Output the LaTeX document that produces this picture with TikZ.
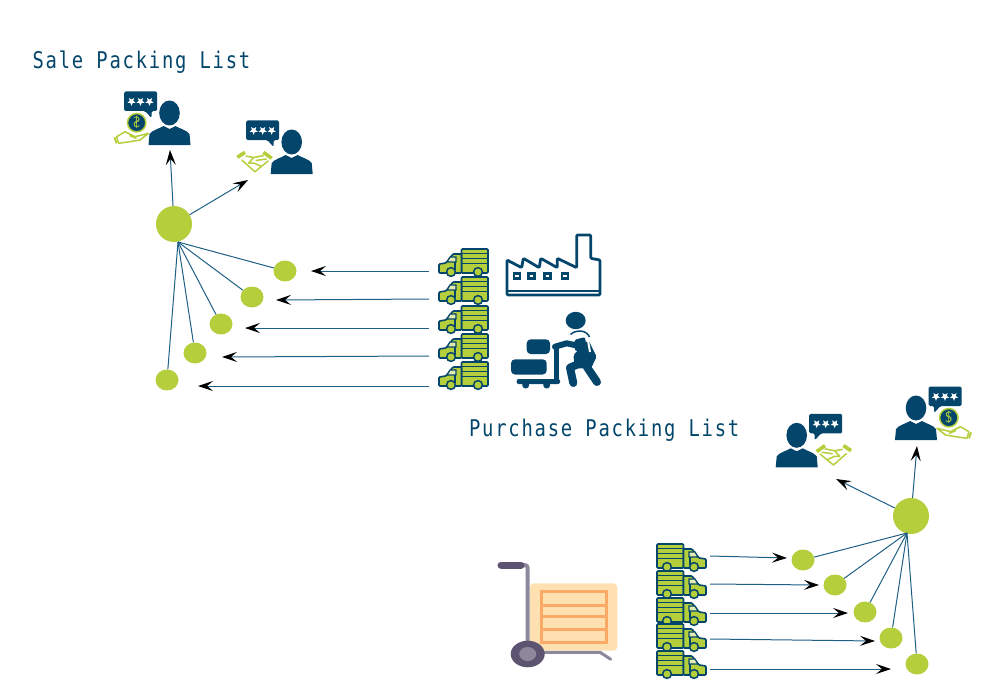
\documentclass[tikz,border=0pt]{standalone}
\usepackage{fontspec}
\usetikzlibrary{arrows.meta,shapes.geometric}
\newfontfamily\titlefont[FakeStretch=0.82,LetterSpace=7.7]{DejaVu Sans Mono}
\definecolor{navy}{HTML}{04466B}
\definecolor{lime}{HTML}{B5CE3B}
\definecolor{wire}{HTML}{1F5F85}
\definecolor{crate}{HTML}{FFE0B0}
\definecolor{slat}{HTML}{FBAA66}
\definecolor{frame}{HTML}{8D889C}
\definecolor{grip}{HTML}{5C5470}
\tikzset{
	hub/.style={circle,fill=lime,minimum size=36pt,inner sep=0pt},
	lot/.style={ellipse,fill=lime,minimum width=23pt,minimum height=21pt,inner sep=0pt},
	spoke/.style={wire,line width=1pt},
	flow/.style={wire,line width=1pt,-{Stealth[black,length=15pt,width=10pt,inset=6pt]}},
	heading/.style={anchor=base west,text=navy,font=\titlefont\fontsize{23}{26}\selectfont},
	truck/.pic={
		\draw[navy,fill=lime,line width=1.6pt,rounded corners=1pt] (-2.5,-13) rectangle (24,11);
		\draw[navy,line width=1pt] (-2.5,-8.5) -- (24,-8.5) (-2.5,-4) -- (24,-4) (-2.5,1) -- (24,1);
		\draw[navy,fill=lime,line width=1.6pt,rounded corners=1pt] (-25,11) -- (-25,2) -- (-18,1) -- (-11,-8) -- (-2.5,-8) -- (-2.5,11) -- cycle;
		\draw[navy,fill=lime!40,line width=1.2pt] (-14,-5) -- (-8,-5) -- (-8,0) -- (-17,0) -- cycle;
		\draw[navy,line width=1.2pt] (-9,0) -- (-9,8);
		\draw[navy,fill=lime,line width=1.5pt] (-13,10) circle (4.4) (14,10) circle (4.4);
	},
	bust/.pic={
		\fill[navy] (0,-32) ellipse (10.3 and 12.5);
		\fill[navy] (-21,0) -- (-20,-11) .. controls (-17,-15) and (-11,-16) .. (-6,-19) -- (0,-16) -- (6,-19) .. controls (11,-16) and (17,-15) .. (20,-11) -- (21,0) -- cycle;
		\fill[navy,rounded corners=1.5pt] (-45.5,-53.5) -- (-12.5,-53.5) -- (-12.5,-34) -- (-18,-34) -- (-18,-27) -- (-24.5,-34) -- (-45.5,-34) -- cycle;
		\foreach \sx in {-38,-29,-20}
			\fill[white,shift={(\sx,-43.5)}] (90:4.3) -- (126:1.9) -- (162:4.3) -- (198:1.9) -- (234:4.3) -- (270:1.9) -- (306:4.3) -- (342:1.9) -- (18:4.3) -- (54:1.9) -- cycle;
	},
	paying/.pic={
		\pic[transform shape] {bust};
		\draw[lime,fill=navy,line width=1.5pt] (-32.8,-22.3) circle (9.2);
		\node (-coin) at (-32.8,-22.3) [text=lime,font=\sffamily\fontsize{15}{15}\selectfont,transform shape,xscale=-1,inner sep=0pt] {\$};
		\draw[lime,line width=1.5pt,line join=round] (-52.8,-8.3) -- (-44.5,-13.3) -- (-34.5,-8.3) -- (-21,-11.7) -- (-29.5,-5) -- (-39.5,-3.3) -- (-51,-1.7) -- cycle;
		\draw[lime,line width=1.5pt,line join=round] (-40,-9.5) -- (-33,-6.5);
		\draw[lime,line width=2pt] (-55,-7.7) -- (-53,-1.7);
	},
	dealing/.pic={
		\pic[transform shape] {bust};
		\draw[lime,line width=1.5pt,line join=round] (-50,-14) -- (-36.7,-2.3) -- (-23.3,-13.3) (-46,-18) -- (-38,-16.5) -- (-28,-18.5) (-38,-16.5) -- (-43,-11) -- (-38,-11) -- (-30,-7.5) (-36,-13.5) -- (-25,-15);
		\draw[lime,line width=3.6pt] (-54.3,-16.7) -- (-46.7,-21.7) (-28.3,-21.7) -- (-20,-15.7);
	}
}
\begin{document}
\begin{tikzpicture}[x=1pt,y=-1pt]
	\useasboundingbox (0,0) rectangle (987,698);
	\node (salelist) at (29,69) [heading] {Sale Packing List};
	\node (purchaselist) at (465.5,436) [heading] {Purchase Packing List};
	%
	\pic (saleclient) at (169.5,145) {paying};
	\pic (salepartner) at (291.7,174) {dealing};
	\pic (buyclient) at (916,440) [xscale=-1] {paying};
	\pic (buypartner) at (796.7,467.3) [xscale=-1] {dealing};
	%
	\node (salehub) at (174,224) [hub] {};
	\node (sale1) at (285,271) [lot] {};
	\node (sale2) at (252,297) [lot] {};
	\node (sale3) at (221,324) [lot] {};
	\node (sale4) at (195,353) [lot] {};
	\node (sale5) at (167,380) [lot] {};
	%
	\node (buyhub) at (911,516) [hub] {};
	\node (buy1) at (803,560) [lot] {};
	\node (buy2) at (835,585) [lot] {};
	\node (buy3) at (865,612) [lot] {};
	\node (buy4) at (891,638) [lot] {};
	\node (buy5) at (917,664) [lot] {};
	%
	\coordinate (saleup) at (170,150);
	\coordinate (saleside) at (248,180);
	\coordinate (buyup) at (917,446);
	\coordinate (buyside) at (836,479);
	\coordinate (salefoot) at (178,242);
	\coordinate (buyfoot) at (907,533);
	%
	\draw[spoke] (salefoot) -- (sale1);
	\draw[spoke] (salefoot) -- (sale2);
	\draw[spoke] (salefoot) -- (sale3);
	\draw[spoke] (salefoot) -- (sale4);
	\draw[spoke] (salefoot) -- (sale5);
	\draw[spoke] (buyfoot) -- (buy1);
	\draw[spoke] (buyfoot) -- (buy2);
	\draw[spoke] (buyfoot) -- (buy3);
	\draw[spoke] (buyfoot) -- (buy4);
	\draw[spoke] (buyfoot) -- (buy5);
	%
	\draw[flow] (salehub) -- (saleup);
	\draw[flow] (salehub) -- (saleside);
	\draw[flow] (buyhub) -- (buyup);
	\draw[flow] (buyhub) -- (buyside);
	%
	\pic (saletruck1) at (464,262) {truck};
	\pic (saletruck2) at (464,290) {truck};
	\pic (saletruck3) at (464,319) {truck};
	\pic (saletruck4) at (464,347) {truck};
	\pic (saletruck5) at (464,375) {truck};
	\pic (buytruck1) at (681,557) [xscale=-1] {truck};
	\pic (buytruck2) at (681,584) [xscale=-1] {truck};
	\pic (buytruck3) at (681,611) [xscale=-1] {truck};
	\pic (buytruck4) at (681,637) [xscale=-1] {truck};
	\pic (buytruck5) at (681,664) [xscale=-1] {truck};
	%
	\coordinate (salefrom1) at (429,271);
	\coordinate (salefrom2) at (429,299);
	\coordinate (salefrom3) at (429,328);
	\coordinate (salefrom4) at (429,356);
	\coordinate (salefrom5) at (429,386);
	\coordinate (saleto1) at (311,271);
	\coordinate (saleto2) at (276,300);
	\coordinate (saleto3) at (245,328);
	\coordinate (saleto4) at (222,357);
	\coordinate (saleto5) at (198,386);
	\draw[flow] (salefrom1) -- (saleto1);
	\draw[flow] (salefrom2) -- (saleto2);
	\draw[flow] (salefrom3) -- (saleto3);
	\draw[flow] (salefrom4) -- (saleto4);
	\draw[flow] (salefrom5) -- (saleto5);
	%
	\coordinate (buyfrom1) at (710,556);
	\coordinate (buyfrom2) at (710,584);
	\coordinate (buyfrom3) at (710,613);
	\coordinate (buyfrom4) at (710,639);
	\coordinate (buyfrom5) at (710,669);
	\coordinate (buyto1) at (787,558);
	\coordinate (buyto2) at (819,585);
	\coordinate (buyto3) at (848,613);
	\coordinate (buyto4) at (875,641);
	\coordinate (buyto5) at (891,669);
	\draw[flow] (buyfrom1) -- (buyto1);
	\draw[flow] (buyfrom2) -- (buyto2);
	\draw[flow] (buyfrom3) -- (buyto3);
	\draw[flow] (buyfrom4) -- (buyto4);
	\draw[flow] (buyfrom5) -- (buyto5);
	%
	% factory
	\draw[navy,line width=2.8pt,line join=round,rounded corners=1pt] (507,260) -- (521.7,267.7) -- (523.3,258.3) -- (539.3,267.7) -- (540.7,258.3) -- (557.3,267.7) -- (557.3,258.3) -- (576.7,267.7) -- (576.7,235) -- (590.7,235) -- (590.7,258.3) -- (600,260) -- (600,295) -- (507,295) -- cycle;
	\draw[navy,line width=1.8pt] (507,291) -- (600,291);
	\foreach \wx in {516.7,531.3,547.3,565}
		\draw[navy,line width=2.4pt] (\wx-3,273.5) rectangle (\wx+3,278.5);
	%
	% worker and cart
	\fill[navy] (575.7,320.5) ellipse (10 and 8.7);
	\fill[navy,rounded corners=4pt] (526.7,339.3) rectangle (550,354);
	\fill[navy,rounded corners=4pt] (511,359.3) rectangle (546.7,374.5);
	\fill[navy,rounded corners=2pt] (516.7,379) rectangle (560,384);
	\fill[navy] (525.7,385) circle (3.5) (546.7,385) circle (3.5);
	\draw[navy,line width=5pt] (556.7,346.7) -- (556.7,380);
	\fill[navy,rounded corners=2pt] (588.3,340) -- (596.7,356.7) -- (591,368.3) -- (575,368.3) -- (573.3,355) -- cycle;
	\draw[navy,line width=1.5pt] (570.5,334.5) .. controls (575,330) and (586,329) .. (589.5,337);
	\draw[white,line width=2pt] (571.7,337) .. controls (575,332.5) and (585,331.5) .. (587.7,339) -- (590,352);
	\draw[navy,line width=6pt,line cap=round,line join=round] (555,346.7) -- (566.7,343.3) -- (582,346.7);
	\fill[navy,rounded corners=2pt] (574,340) -- (585,337) -- (587,350) -- (575,351) -- cycle;
	\draw[navy,line width=8pt,line cap=round,line join=round] (583.3,361.7) -- (570,367.7) -- (573.3,383);
	\draw[navy,line width=8pt,line cap=round] (586.7,366.7) -- (597,382);
	%
	% hand truck
	\fill[crate,rounded corners=4pt] (530,583.3) rectangle (617.3,650.7);
	\draw[slat,line width=3pt] (541,591.7) rectangle (606,642.3);
	\draw[slat,line width=3pt] (541,605) -- (606,605) (541,616.7) -- (606,616.7) (541,629) -- (606,629);
	\draw[frame,line width=4pt,rounded corners=3pt] (520,565) -- (527.7,565) -- (527.7,645);
	\draw[frame,line width=3pt,line cap=round] (528,652.3) -- (600,652.3) -- (610.7,659.3);
	\draw[grip,line width=7pt,line cap=round] (501,565) -- (521,565);
	\fill[grip] (527.7,654) ellipse (17 and 13.3);
	\fill[frame] (527.7,654) ellipse (8.5 and 7);
\end{tikzpicture}
\end{document}
